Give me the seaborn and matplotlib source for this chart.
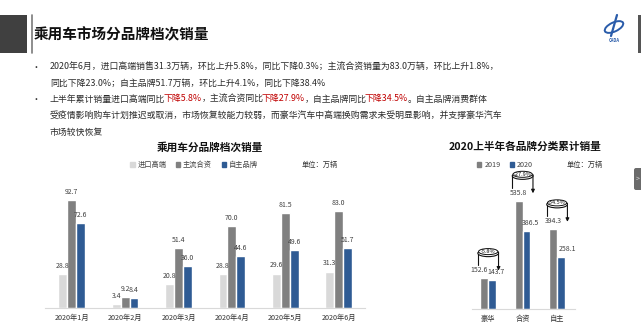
import matplotlib.pyplot as plt
import pandas as pd
import seaborn as sns
from matplotlib.patches import Ellipse, FancyBboxPatch, Patch, Rectangle

# 数据: 月度分品牌档次销量 (万辆)
months = ["2020年1月", "2020年2月", "2020年3月", "2020年4月", "2020年5月", "2020年6月"]
series_names = ["进口高端", "主流合资", "自主品牌"]
import_high = [28.8, 3.4, 20.8, 28.8, 29.6, 31.3]
mainstream_jv = [92.7, 9.2, 51.4, 70.0, 81.5, 83.0]
domestic = [72.6, 8.4, 36.0, 44.6, 49.6, 51.7]

# 上半年累计销量 (万辆)
brand_types = ["豪华", "合资", "自主"]
years = ["2019", "2020"]
cum_2019 = [152.6, 535.8, 394.3]
cum_2020 = [143.7, 386.5, 258.1]
change_labels = ["-5.8%", "-27.9%", "-34.5%"]

LIGHT = "#d9d9d9"
GRAY = "#808080"
BLUE = "#2f5b94"
TXT = "#2b2b2b"
RED = "#c00000"

sns.set_theme(style="white")
plt.rcParams["font.family"] = ["Noto Sans CJK SC", "DejaVu Sans"]

W, H = 641, 333
fig = plt.figure(figsize=(W / 100, H / 100), dpi=100)
fig.patch.set_facecolor("white")


def px_axes(left, top, right, bottom):
    return fig.add_axes([left / W, 1 - bottom / H, (right - left) / W, (bottom - top) / H])


# 背景/文字层 (像素坐标)
bg = fig.add_axes([0, 0, 1, 1])
bg.set_xlim(0, W)
bg.set_ylim(H, 0)
bg.axis("off")

bg.add_patch(Rectangle((0, 15), 27, 38, color="#404040", lw=0))
bg.plot([31.5, 31.5], [15, 53], color="#7a7a7a", lw=1.2)
bg.add_patch(Rectangle((637.5, 15), 3.5, 38, color="#555555", lw=0))
bg.text(34, 34, "乘用车市场分品牌档次销量", fontsize=10.5, fontweight="bold",
        color="#111111", va="center", ha="left")

# logo 近似
bg.add_patch(Ellipse((614, 27), 20, 9, angle=-25, fill=False, ec="#2a5caa", lw=1.4))
bg.plot([617, 611], [15, 36], color="#2a5caa", lw=1.6)
bg.text(614, 41, "CADA", fontsize=3, color="#2a5caa", ha="center", va="center",
        fontweight="bold", style="italic")

# 右侧翻页按钮
bg.add_patch(FancyBboxPatch((634, 168), 10, 22, boxstyle="round,pad=0,rounding_size=2",
                            color="#6b6b6b", lw=0))
bg.text(637.5, 179, ">", fontsize=5, color="#dddddd", ha="center", va="center")


def rich_line(x, y, parts, size=6.4):
    t = bg.text(x, y, parts[0][0], color=parts[0][1], fontsize=size, va="center", ha="left")
    prev = parts[0][0]
    for s, c in parts[1:]:
        # 以汉字结尾的片段测得的宽度偏大, 稍微回拉
        dx = -1.5 if ord(prev[-1]) > 0x2E80 else 0
        t = bg.annotate(s, xy=(1, 0), xycoords=t, xytext=(dx, 0), textcoords="offset points",
                        va="bottom", ha="left", color=c, fontsize=size)
        prev = s


bg.text(36, 67, "•", fontsize=6.4, color=TXT, va="center", ha="center")
rich_line(50, 67, [("2020年6月，进口高端销售31.3万辆，环比上升5.8%，同比下降0.3%；主流合资销量为83.0万辆，环比上升1.8%，", TXT)])
rich_line(50, 83, [("同比下降23.0%；自主品牌51.7万辆，环比上升4.1%，同比下降38.4%", TXT)])
bg.text(36, 99, "•", fontsize=6.4, color=TXT, va="center", ha="center")
rich_line(50, 99, [("上半年累计销量进口高端同比", TXT), ("下降5.8%", RED),
                   ("，主流合资同比", TXT), ("下降27.9%", RED),
                   ("，自主品牌同比", TXT), ("下降34.5%", RED),
                   ("。自主品牌消费群体", TXT)])
rich_line(50, 116, [("受疫情影响购车计划推迟或取消，市场恢复较能力较弱，而豪华汽车中高端换购需求未受明显影响，并支撑豪华汽车", TXT)])
rich_line(50, 132, [("市场较快恢复", TXT)])

# 左图: 月度销量
df_month = pd.DataFrame({
    "month": months * 3,
    "series": [s for s in series_names for _ in months],
    "value": import_high + mainstream_jv + domestic,
})
ax1 = px_axes(45, 190, 365.4, 308)
sns.barplot(data=df_month, x="month", y="value", hue="series", order=months,
            hue_order=series_names, palette=[LIGHT, GRAY, BLUE], width=0.5,
            saturation=1, legend=False, ax=ax1)
for cont in ax1.containers:
    ax1.bar_label(cont, fmt="%.1f", padding=3, fontsize=5, color="#404040")
ax1.set_xlim(-0.5, 5.5)
ax1.set_ylim(0, 101.3)

# 右图: 上半年累计
df_cum = pd.DataFrame({
    "type": brand_types * 2,
    "year": [y for y in years for _ in brand_types],
    "value": cum_2019 + cum_2020,
})
ax2 = px_axes(472, 190, 575, 309)
sns.barplot(data=df_cum, x="type", y="value", hue="year", order=brand_types,
            hue_order=years, palette=["#7f7f7f", BLUE], width=0.45,
            saturation=1, legend=False, ax=ax2)
labs19 = ax2.bar_label(ax2.containers[0], fmt="%.1f", padding=3, fontsize=5, color="#404040")
labs20 = ax2.bar_label(ax2.containers[1], fmt="%.1f", padding=3, fontsize=5, color="#404040")
labs19[0].xyann = (-3.5, 3)
for lab in labs20:
    lab.xyann = (3, 3)
labs20[2].xyann = (5, 3)
ax2.set_xlim(-0.47, 2.52)
ax2.set_ylim(0, 590)

for ax in (ax1, ax2):
    ax.set_facecolor("none")
    ax.set_xlabel("")
    ax.set_ylabel("")
    ax.set_yticks([])
    for side in ("top", "right", "left"):
        ax.spines[side].set_visible(False)
    ax.spines["bottom"].set_color("#d9d9d9")
    ax.spines["bottom"].set_linewidth(0.8)
    ax.tick_params(axis="x", length=0, pad=4.5, labelsize=5.2, labelcolor="#333333")

# 同比变化标注 (圆环+箭头)
for i, (v19, lab) in enumerate(zip(cum_2019, change_labels)):
    ye = v19 + 130
    half = 0.3
    ax2.plot([i - half, i - half], [ye, ye - 65], color="#111111", lw=0.8, clip_on=False)
    ax2.annotate("", xy=(i + half, ye - 92), xytext=(i + half, ye),
                 arrowprops=dict(arrowstyle="-|>", color="#111111", lw=0.8,
                                 mutation_scale=5, shrinkA=0, shrinkB=0),
                 annotation_clip=False)
    ax2.add_patch(Ellipse((i, ye - 6), 2 * half, 34, fc="white", ec="#111111", lw=0.8,
                          zorder=5, clip_on=False))
    ax2.add_patch(Ellipse((i, ye + 2), 2 * half - 0.04, 30, fc="white", ec="#111111", lw=0.7,
                          zorder=6, clip_on=False))
    ax2.text(i, ye + 2, lab, fontsize=4, ha="center", va="center", color="#111111",
             zorder=7, clip_on=False)

# 图标题、图例、单位
bg.text(210, 147, "乘用车分品牌档次销量", fontsize=7.7, fontweight="bold",
        color="#111111", ha="center", va="center")
bg.text(525, 147, "2020上半年各品牌分类累计销量", fontsize=7.7, fontweight="bold",
        color="#111111", ha="center", va="center")
bg.text(302, 165, "单位：万辆", fontsize=5.2, color="#333333", ha="left", va="center")
bg.text(567, 165, "单位：万辆", fontsize=5.2, color="#333333", ha="left", va="center")

leg_kw = dict(loc="center", frameon=False, handlelength=0.6, handleheight=0.6,
              handletextpad=0.4, columnspacing=1.3, fontsize=5.2, labelcolor="#444444")
fig.legend(handles=[Patch(color=c, label=s) for c, s in zip([LIGHT, GRAY, BLUE], series_names)],
           ncol=3, bbox_to_anchor=(194 / W, 1 - 165 / H), **leg_kw)
fig.legend(handles=[Patch(color=c, label=s) for c, s in zip(["#7f7f7f", BLUE], years)],
           ncol=2, bbox_to_anchor=(505 / W, 1 - 165 / H), **leg_kw)

plt.savefig("out.png", dpi=100)
